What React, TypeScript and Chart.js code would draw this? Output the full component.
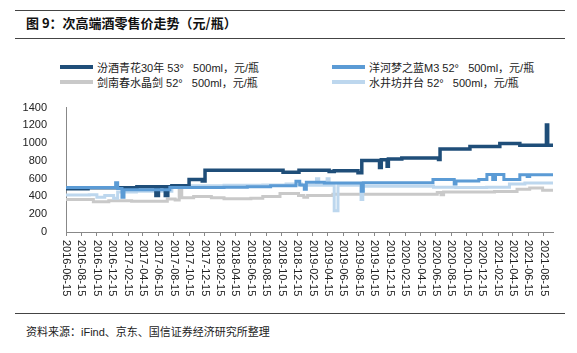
import React, { useEffect, useRef } from "react";
import { Chart, registerables } from "chart.js";

Chart.register(...registerables);

const tickLabels = [
  "2016-06-15", "2016-08-15", "2016-10-15", "2016-12-15",
  "2017-02-15", "2017-04-15", "2017-06-15", "2017-08-15", "2017-10-15", "2017-12-15",
  "2018-02-15", "2018-04-15", "2018-06-15", "2018-08-15", "2018-10-15", "2018-12-15",
  "2019-02-15", "2019-04-15", "2019-06-15", "2019-08-15", "2019-10-15", "2019-12-15",
  "2020-02-15", "2020-04-15", "2020-06-15", "2020-08-15", "2020-10-15", "2020-12-15",
  "2021-02-15", "2021-04-15", "2021-06-15", "2021-08-15",
];
const startDate = "2016-06-15";
const endDate = "2021-09-20";
const yTicks = [0, 200, 400, 600, 800, 1000, 1200, 1400];

// 汾酒青花30年
const fenjiuDates = [
  "2016-06-15", "2016-09-10", "2017-03-22", "2017-06-05", "2017-06-15", "2017-07-12", "2017-07-22",
  "2017-08-07", "2017-10-14", "2017-12-05", "2017-12-16", "2018-10-20", "2018-12-22", "2019-04-20",
  "2019-05-10", "2019-08-12", "2019-08-27", "2019-11-05", "2019-11-12", "2019-12-05", "2019-12-10",
  "2020-02-01", "2020-06-25", "2020-07-01", "2020-10-27", "2021-02-22", "2021-05-12", "2021-08-25",
  "2021-08-30", "2021-09-20",
];
const fenjiuValues = [
  488, 497, 508, 410, 508, 410, 508,
  520, 592, 575, 695, 672, 695, 680,
  690, 668, 805, 725, 812, 740, 822,
  832, 815, 935, 962, 995, 975, 1205,
  975, 975,
];

// 洋河梦之蓝M3
const m3Dates = [
  "2016-06-15", "2016-12-28", "2017-01-05", "2017-01-22", "2017-01-30", "2017-07-30", "2018-03-01",
  "2018-06-01", "2018-09-01", "2018-12-10", "2018-12-25", "2019-01-12", "2019-01-20", "2019-04-01",
  "2019-08-25", "2019-09-02", "2020-06-03", "2020-08-26", "2020-09-02", "2020-12-01", "2021-01-02",
  "2021-01-25", "2021-02-05", "2021-03-10", "2021-05-12", "2021-06-10", "2021-06-20", "2021-09-20",
];
const m3Values = [
  500, 555, 490, 390, 475, 500, 505,
  510, 520, 570, 530, 480, 560, 552,
  460, 555, 592, 540, 575, 590, 648,
  590, 648, 592, 645, 625, 645, 642,
];

// 剑南春水晶剑
const jncDates = [
  "2016-06-15", "2016-10-01", "2016-12-01", "2017-03-01", "2017-07-20", "2017-08-20", "2017-09-05",
  "2017-09-15", "2017-11-01", "2018-01-10", "2018-03-01", "2018-06-15", "2018-08-01", "2018-10-08",
  "2018-12-20", "2019-01-10", "2019-01-25", "2019-05-05", "2020-06-20", "2020-07-05", "2020-07-15",
  "2021-02-01", "2021-05-01", "2021-06-20", "2021-08-10", "2021-09-20",
];
const jncValues = [
  365, 340, 352, 345, 372, 360, 490,
  385, 400, 385, 375, 380, 400, 432,
  410, 390, 410, 425, 445, 420, 450,
  455, 480, 495, 470, 465,
];

// 水井坊井台
const sjfDates = [
  "2016-06-15", "2016-09-15", "2016-10-15", "2016-11-15", "2016-12-20", "2017-01-05", "2017-03-20",
  "2017-08-07", "2017-10-01", "2018-03-01", "2018-08-01", "2018-11-01", "2019-01-01", "2019-03-01",
  "2019-03-10", "2019-04-12", "2019-04-20", "2019-05-10", "2019-05-25", "2019-08-24", "2019-08-31",
  "2020-06-05", "2020-09-01", "2021-01-01", "2021-04-01", "2021-06-01", "2021-09-20",
];
const sjfValues = [
  415, 420, 390, 410, 380, 450, 460,
  505, 520, 525, 530, 540, 525, 600,
  525, 600, 525, 240, 525, 365, 515,
  505, 500, 505, 540, 552, 552,
];

const seriesNames = [
  "汾酒青花30年 53°   500ml，元/瓶",
  "洋河梦之蓝M3 52°   500ml，元/瓶",
  "剑南春水晶剑 52°   500ml，元/瓶",
  "水井坊井台 52°   500ml，元/瓶",
];
const seriesColors = ["#1F4E79", "#5B9BD5", "#C9C9C9", "#BDD7EE"];

function days(s: string): number {
  const [y, m, d] = s.split("-").map(Number);
  const [y0, m0, d0] = startDate.split("-").map(Number);
  return Math.round((Date.UTC(y, m - 1, d) - Date.UTC(y0, m0 - 1, d0)) / 86400000);
}

function pts(dates: string[], values: number[]) {
  return dates.map((d, i) => ({ x: days(d), y: values[i] }));
}

const FONT = "'Liberation Sans', 'Noto Sans CJK SC', Arial, sans-serif";

export default function App() {
  const ref = useRef<HTMLCanvasElement | null>(null);

  useEffect(() => {
    if (!ref.current) return;
    const labelMap: Record<number, string> = {};
    tickLabels.forEach((t) => (labelMap[days(t)] = t));

    const rotLabels = {
      id: "rotLabels",
      afterDraw(chart: any) {
        const xs = chart.scales.x;
        const ctx = chart.ctx;
        ctx.save();
        ctx.font = "11px " + FONT;
        ctx.fillStyle = "#222";
        ctx.textAlign = "left";
        ctx.textBaseline = "middle";
        xs.ticks.forEach((t: any) => {
          const x = xs.getPixelForValue(t.value);
          ctx.save();
          ctx.translate(x, xs.top + 8);
          ctx.rotate(Math.PI / 2);
          ctx.fillText(labelMap[t.value] ?? "", 0, 0);
          ctx.restore();
        });
        ctx.restore();
      },
    };

    const mk = (label: string, data: any, color: string, width: number, order: number) => ({
      label,
      data,
      borderColor: color,
      backgroundColor: color,
      borderWidth: width,
      pointRadius: 0,
      stepped: true,
      fill: false,
      order,
    });

    const chart = new Chart(ref.current, {
      type: "line",
      data: {
        datasets: [
          mk(seriesNames[2], pts(jncDates, jncValues), seriesColors[2], 3, 4),
          mk(seriesNames[3], pts(sjfDates, sjfValues), seriesColors[3], 3, 3),
          mk(seriesNames[0], pts(fenjiuDates, fenjiuValues), seriesColors[0], 3.5, 2),
          mk(seriesNames[1], pts(m3Dates, m3Values), seriesColors[1], 3, 1),
        ],
      },
      options: {
        animation: false,
        responsive: false,
        events: [],
        layout: { padding: { left: 0, right: 24, top: 12.5, bottom: 0 } },
        plugins: { legend: { display: false }, tooltip: { enabled: false }, title: { display: false } },
        scales: {
          x: {
            type: "linear",
            min: 0,
            max: days(endDate),
            afterBuildTicks: (scale: any) => {
              scale.ticks = tickLabels.map((t) => ({ value: days(t) }));
            },
            afterFit: (scale: any) => {
              scale.height = 73;
            },
            ticks: {
              autoSkip: false,
              minRotation: 90,
              maxRotation: 90,
              color: "rgba(0,0,0,0)",
              font: { size: 11, family: FONT },
              callback: (v: any) => labelMap[v] ?? "",
            },
            grid: { display: true, drawOnChartArea: false, drawTicks: true, tickLength: 4, color: "#888" },
            border: { display: true, color: "#888", width: 1 },
          },
          y: {
            min: 0,
            max: 1400,
            afterBuildTicks: (scale: any) => {
              scale.ticks = yTicks.map((v) => ({ value: v }));
            },
            afterFit: (scale: any) => {
              scale.width = 66;
            },
            ticks: {
              color: "#222",
              padding: 11,
              font: { size: 11, family: FONT },
              callback: (v: any) => String(v),
            },
            grid: { display: false },
            border: { display: true, color: "#888", width: 1 },
          },
        },
      },
      plugins: [rotLabels],
    });
    return () => chart.destroy();
  }, []);

  const legendItem = (i: number, left: number, top: number) => (
    <div key={i} style={{ position: "absolute", left, top, height: 14, display: "flex", alignItems: "center", whiteSpace: "pre" }}>
      <div style={{ width: 33, height: 4, background: seriesColors[i], marginRight: 4 }} />
      <span style={{ fontSize: 11, fontFamily: FONT, color: "#222" }}>{seriesNames[i]}</span>
    </div>
  );

  return (
    <div style={{ position: "absolute", left: 0, top: 0, width: 577, height: 353, background: "#fff", overflow: "hidden" }}>
      <div style={{ position: "absolute", left: 15, top: 9.5, width: 550, height: 1.5, background: "#444" }} />
      <div style={{ position: "absolute", left: 26, top: 14, fontSize: 13, fontWeight: "bold", fontFamily: "'Noto Sans CJK SC', sans-serif", color: "#111", whiteSpace: "pre", lineHeight: "18px" }}>
        图 9：次高端酒零售价走势（元/瓶）
      </div>
      <div style={{ position: "absolute", left: 15, top: 37.5, width: 550, height: 1.5, background: "#444" }} />
      {legendItem(0, 60, 60)}
      {legendItem(1, 332, 60)}
      {legendItem(2, 60, 75)}
      {legendItem(3, 332, 75)}
      <canvas ref={ref} width={577} height={215} style={{ position: "absolute", left: 0, top: 90, width: 577, height: 215, display: "block" }} />
      <div style={{ position: "absolute", left: 15, top: 312.5, width: 550, height: 1.5, background: "#444" }} />
      <div style={{ position: "absolute", left: 26, top: 325, fontSize: 11, fontFamily: FONT, color: "#222", whiteSpace: "pre", lineHeight: "14px" }}>
        资料来源：iFind、京东、国信证券经济研究所整理
      </div>
    </div>
  );
}
